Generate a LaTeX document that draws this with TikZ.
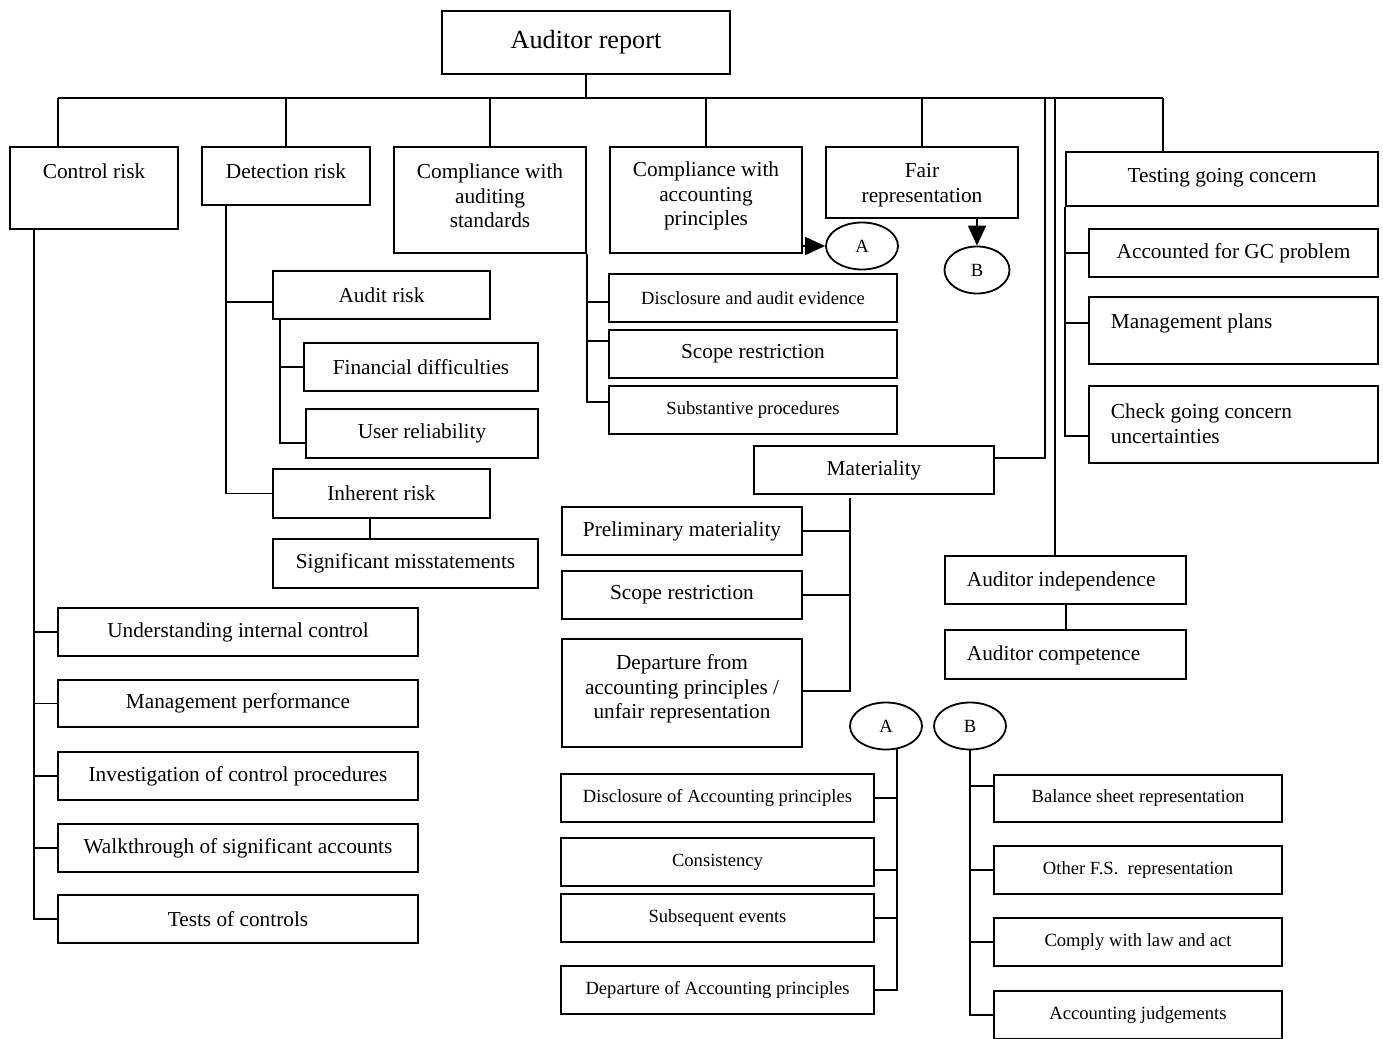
\documentclass[tikz,border=0pt]{standalone}
\usepackage{fontspec}
\setmainfont{Liberation Serif}
\usetikzlibrary{shapes.geometric,arrows.meta}
\newcommand\fmain{\fontsize{10.65pt}{12.3pt}\selectfont}
\newcommand\fsmall{\fontsize{9.3pt}{11pt}\selectfont}
\newcommand\fbig{\fontsize{13.1pt}{15pt}\selectfont}
\newcommand\bx[7][]{\node[box,minimum width={(#5-#3)*0.5pt},minimum height={(#6-#4)*0.5pt},#1] (#2) at ({(#3+#5)/2},{(#4+#6)/2}) {#7};}
\begin{document}
\begin{tikzpicture}[x=0.5pt,y=-0.5pt,line width=0.9pt,
  box/.style={draw,inner sep=0pt,align=center,font=\fmain},
  txt/.style={inner sep=0pt,align=center,font=\fmain},
  smf/.style={font=\fsmall},
  circ/.style={draw,ellipse,inner sep=0pt,font=\fsmall,minimum height=23.5pt},
  arr/.style={-{Triangle[length=10pt,width=9pt]}}]
\path[fill=white] (0,0) rectangle (1383,1039);
\useasboundingbox (0,0) rectangle (1383,1039);
% top level
\bx[font=\fbig]{rep}{442}{11}{730}{74}{Auditor report}
\bx{cr}{10}{147}{178}{229}{}
\node[txt] (crt) at (94,171) {Control risk};
\bx{det}{202}{147}{370}{205}{}
\node[txt] (dett) at (286,171) {Detection risk};
\bx{caud}{394}{147}{586}{253}{}
\node[txt] (caudt) at (490,196) {Compliance with\\auditing\\standards};
\bx{cacc}{610}{147}{802}{253}{}
\node[txt] (cacct) at (706,196) {Compliance with\\accounting\\principles};
\bx{fair}{826}{147}{1018}{218}{}
\node[txt] (fairt) at (922,185) {Fair\\representation};
\bx{tgc}{1066}{152}{1378}{206}{}
\node[txt] (tgct) at (1222,178) {Testing going concern};
% circles top
\node[circ,minimum width=36pt] (A1) at (862,246) {A};
\node[circ,minimum width=32.5pt] (B1) at (977,270) {B};
% testing going concern children
\bx{agc}{1089}{229}{1378}{277}{Accounted for GC problem}
\bx{mpl}{1089}{297}{1378}{364}{}
\node[txt,anchor=west] (mplt) at (1110,323) {Management plans};
\bx{cgc}{1089}{386}{1378}{463}{}
\node[txt,anchor=west,align=left] (cgct) at (1110,423.5) {Check going concern\\uncertainties};
% detection risk children
\bx{ar}{273}{271}{490}{319}{Audit risk}
\bx{fd}{304}{343}{538}{391}{Financial difficulties}
\bx{ur}{306}{409}{538}{458}{User reliability}
\bx{ir}{273}{469}{490}{518}{Inherent risk}
\bx{sm}{273}{539}{538}{588}{Significant misstatements}
% compliance auditing children
\bx[smf]{dae}{609}{274}{897}{322}{Disclosure and audit evidence}
\bx{sr1}{609}{330}{897}{378}{Scope restriction}
\bx[smf]{sp}{609}{386}{897}{434}{Substantive procedures}
% materiality
\bx{mat}{754}{446}{994}{494}{Materiality}
\bx{pm}{562}{507}{802}{555}{Preliminary materiality}
\bx{sr2}{562}{571}{802}{619}{Scope restriction}
\bx{dep}{562}{639}{802}{747}{}
\node[txt] (dept) at (682,689) {Departure from\\accounting principles /\\unfair representation};
% independence
\bx{ind}{945}{556}{1186}{604}{}
\node[txt,anchor=west] (indt) at (966,581) {Auditor independence};
\bx{comp}{945}{630}{1186}{679}{}
\node[txt,anchor=west] (compt) at (966,655) {Auditor competence};
% control risk children
\bx{uic}{58}{608}{418}{656}{Understanding internal control}
\bx{mp}{58}{680}{418}{727}{Management performance}
\bx{icp}{58}{752}{418}{800}{Investigation of control procedures}
\bx{wsa}{58}{824}{418}{872}{Walkthrough of significant accounts}
\bx{tc}{58}{895}{418}{943}{Tests of controls}
% A and B lower
\node[circ,minimum width=36pt] (A2) at (886,726) {A};
\node[circ,minimum width=36pt] (B2) at (970,726) {B};
\bx[smf]{dsc}{561}{774}{874}{822}{Disclosure of Accounting principles}
\bx[smf]{con}{561}{838}{874}{886}{Consistency}
\bx[smf]{se}{561}{894}{874}{942}{Subsequent events}
\bx[smf]{dap}{561}{966}{874}{1014}{Departure of Accounting principles}
\bx[smf]{bsr}{994}{775}{1282}{822}{Balance sheet representation}
\bx[smf]{ofs}{994}{846}{1282}{894}{Other F.S.\ \ representation}
\bx[smf]{cla}{994}{918}{1282}{966}{Comply with law and act}
\bx[smf]{aj}{994}{991}{1282}{1039}{Accounting judgements}
% ---------------- connectors
\coordinate (busL) at (58,98);
\coordinate (busR) at (1163,98);
\draw (rep.south) -- (rep.south |- busL);
\draw (busL) -- (busR);
\draw (busL) -- (busL |- cr.north);
\draw (det.north) -- (det.north |- busL);
\draw (caud.north) -- (caud.north |- busL);
\draw (cacc.north) -- (cacc.north |- busL);
\draw (fair.north) -- (fair.north |- busL);
\draw (busR) -- (busR |- tgc.north);
\coordinate (mt) at (1045,98);
\coordinate (mb) at (1045,458);
\draw (mt) -- (mb) -- (mb -| mat.east);
\coordinate (it) at (1055,98);
\draw (it) -- (it |- ind.north);
% control risk
\coordinate (crx) at (34,920);
\draw (crx |- cr.south) -- (crx |- tc.west) -- (tc.west);
\foreach \n in {uic,mp,icp,wsa} \draw (crx |- \n.west) -- (\n.west);
% detection risk
\coordinate (dx) at (226,205);
\draw (dx) |- (ir.west);
\draw ([yshift=-3.5pt]ar.west) -| (dx);
\coordinate (ax) at (280,319);
\draw (ax) |- ([yshift=-4.75pt]ur.west);
\draw (fd.west) -| (ax);
\coordinate (ix) at (370,518);
\draw (ix) -- (ix |- sm.north);
% compliance auditing
\draw (caud.south east) |- ([yshift=4pt]sp.west);
\draw ([yshift=-2pt]dae.west) -| (caud.south east);
\draw ([yshift=6.5pt]sr1.west) -| (caud.south east);
% arrows to A and B
\draw[arr] (cacc.east |- A1.west) -- (A1.west);
\draw[arr] (B1.north |- fair.south) -- (B1.north);
% testing going concern
\draw (tgc.south west) |- ([yshift=-5.75pt]cgc.west);
\draw (agc.west) -| (tgc.south west);
\draw ([yshift=3.75pt]mpl.west) -| (tgc.south west);
% materiality
\coordinate (mx) at (850,498);
\draw (mx) |- ([yshift=1pt]dep.east);
\draw (pm.east) -| (mx);
\draw (sr2.east) -| (mx);
% independence
\coordinate (cx) at (1066,604);
\draw (cx) -- (cx |- comp.north);
% A lower
\coordinate (ax2) at (897,749);
\draw (ax2) |- (dap.east);
\draw (dsc.east) -| (ax2);
\draw ([yshift=-4pt]con.east) -| (ax2);
\draw (se.east) -| (ax2);
% B lower
\draw (B2.south) |- (aj.west);
\draw ([yshift=6.25pt]bsr.west) -| (B2.south);
\draw (ofs.west) -| (B2.south);
\draw (cla.west) -| (B2.south);
\end{tikzpicture}
\end{document}
